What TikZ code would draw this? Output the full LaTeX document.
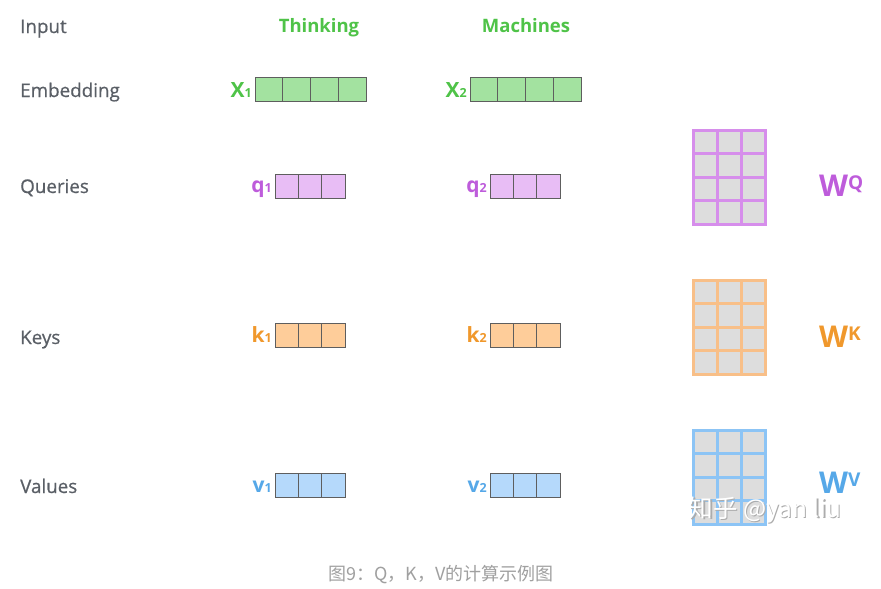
\documentclass[tikz,border=0pt]{standalone}
\usepackage{fontspec}
\setmainfont{Open Sans}
\newfontfamily\labelfont[FakeBold=0.6]{Open Sans}
\newfontfamily\cjkfont{Noto Sans CJK SC}
\definecolor{lblgray}{HTML}{5A5F66}
\definecolor{capgray}{HTML}{A0A0A0}
\definecolor{gtext}{HTML}{4FC348}
\definecolor{gfill}{HTML}{A3E2A0}
\definecolor{ptext}{HTML}{BE5CDB}
\definecolor{pfill}{HTML}{E8BDF5}
\definecolor{pline}{HTML}{D68EEB}
\definecolor{otext}{HTML}{F0982C}
\definecolor{ofill}{HTML}{FECD9A}
\definecolor{oline}{HTML}{F8BF88}
\definecolor{btext}{HTML}{56A8E8}
\definecolor{bfill}{HTML}{B5D9FB}
\definecolor{bline}{HTML}{8CC4F5}
\definecolor{mcell}{HTML}{DDDDDD}
\definecolor{cellline}{HTML}{5E5E5E}
\tikzset{
  rowlabel/.style={anchor=base west, text=lblgray, font=\labelfont\fontsize{18.8}{20}\selectfont, inner sep=0pt},
  wordlabel/.style={anchor=base, font=\fontsize{18.5}{20}\selectfont\bfseries, text=gtext, inner sep=0pt},
  veclabel/.style={anchor=base east, font=\fontsize{21}{22}\selectfont\bfseries, inner sep=0pt},
  wlabel/.style={anchor=base west, font=\fontsize{30}{32}\selectfont\bfseries, inner sep=0pt},
  vcell/.style={draw=cellline, line width=0.9pt, inner sep=0pt, outer sep=0pt, minimum height=24pt},
  ecell/.style={vcell, fill=gfill, minimum width=27.75pt},
  qcell/.style={vcell, fill=pfill, minimum width=23.33pt},
  kcell/.style={vcell, fill=ofill, minimum width=23.33pt},
  valcell/.style={vcell, fill=bfill, minimum width=23.33pt},
  mcellst/.style={fill=mcell, inner sep=0pt, outer sep=0pt, minimum width=24pt, minimum height=23.5pt, line width=3pt},
  wmark/.style={anchor=base west, inner sep=0pt, text height=17pt, text depth=5pt, font=\cjkfont\fontsize{24.5}{26}\selectfont},
}
\newcommand{\subdig}[1]{{\fontsize{12.5}{13}\selectfont #1}}
\newcommand{\supl}[1]{\raisebox{7pt}{\fontsize{19}{19}\selectfont #1}}
\begin{document}
\begin{tikzpicture}[x=1pt,y=-1pt]
\useasboundingbox (0,0) rectangle (881,589);
\fill[white] (0,0) rectangle (881,589);
% row labels
\node[rowlabel] (lin) at (20,33) {Input};
\node[rowlabel] (lemb) at (20,97) {Embedding};
\node[rowlabel] (lq) at (20,193) {Queries};
\node[rowlabel] (lk) at (20,344) {Keys};
\node[rowlabel] (lv) at (20,493) {Values};
% words
\node[wordlabel] (w1) at (319,32) {Thinking};
\node[wordlabel] (w2) at (526,32) {Machines};
% embeddings
\foreach \i in {0,1,2,3} {
  \node[ecell] (xa\i) at (255+13.875+27.75*\i,89) {};
  \node[ecell] (xb\i) at (470+13.875+27.75*\i,89) {};
}
\node[veclabel, text=gtext] (X1) at (252,97) {X\subdig{1}};
\node[veclabel, text=gtext] (X2) at (467,97) {X\subdig{2}};
% q k v
\foreach \i in {0,1,2} {
  \node[qcell] (qa\i) at (275+11.667+23.33*\i,186) {};
  \node[qcell] (qb\i) at (490+11.667+23.33*\i,186) {};
  \node[kcell] (ka\i) at (275+11.667+23.33*\i,335.5) {};
  \node[kcell] (kb\i) at (490+11.667+23.33*\i,335.5) {};
  \node[valcell] (va\i) at (275+11.667+23.33*\i,485) {};
  \node[valcell] (vb\i) at (490+11.667+23.33*\i,485) {};
}
\node[veclabel, text=ptext] (q1) at (272,192) {q\subdig{1}};
\node[veclabel, text=ptext] (q2) at (487,192) {q\subdig{2}};
\node[veclabel, text=otext] (k1) at (272,342) {k\subdig{1}};
\node[veclabel, text=otext] (k2) at (487,342) {k\subdig{2}};
\node[veclabel, text=btext] (v1) at (272,492) {v\subdig{1}};
\node[veclabel, text=btext] (v2) at (487,492) {v\subdig{2}};
% weight matrices
\foreach \top/\col/\nm in {130/pline/WQ,280/oline/WK,430/bline/WV} {
  \foreach \r in {0,1,2,3} {
    \foreach \c in {0,1,2} {
      \node[mcellst, draw=\col] (\nm\r\c) at (693+12+24*\c,\top+11.75+23.5*\r) {};
    }
  }
}
\node[wlabel, text=ptext] (wq) at (819,196) {W\supl{Q}};
\node[wlabel, text=otext] (wk) at (819,347) {W\supl{K}};
\node[wlabel, text=btext] (wv) at (819,493) {W\supl{V}};
% watermark
\node[wmark, text=gray!65] (wm0) at (689.8,518.3) {知乎 @yan liu};
\node[wmark, text=white] (wm) at (688.5,517) {知乎 @yan liu};
% caption
\node[inner sep=0pt, text=capgray, font=\cjkfont\fontsize{18}{19}\selectfont] (cap) at (441,575) {图9：Q，K，V的计算示例图};
\end{tikzpicture}
\end{document}
